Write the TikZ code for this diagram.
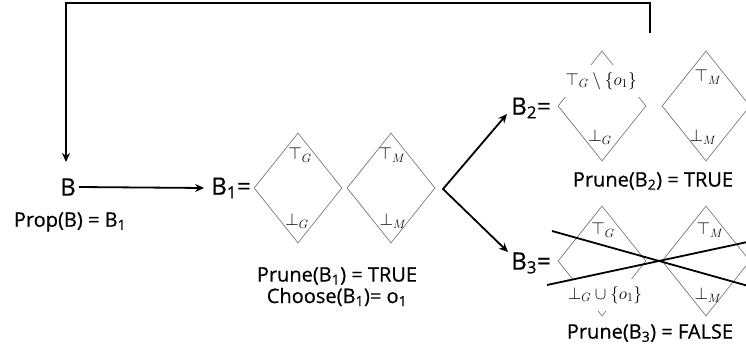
\documentclass[tikz,border=0pt]{standalone}
\usepackage{fontspec}
\setmainfont{Open Sans}[FakeBold=0.5]
\usetikzlibrary{shapes.geometric,arrows.meta}
\tikzset{mytip/.tip={Stealth[length=9pt,width=8pt]}}
\begin{document}
\begin{tikzpicture}[x=1pt,y=-1pt,
  dia/.style={draw=black!60,line width=0.6pt,diamond,minimum width=88pt,minimum height=110pt,inner sep=0pt},
  bl/.style={font=\fontsize{24}{28}\selectfont,inner sep=1pt},
  tx/.style={font=\fontsize{20}{24}\selectfont,inner sep=1pt},
  ml/.style={font=\fontsize{17}{20}\selectfont,inner sep=1pt},
  wl/.style={ml,fill=white,inner xsep=2pt,inner ysep=7pt},
  conn/.style={line width=1.8pt,-{mytip}},
  cross/.style={line width=1.8pt},
]
\useasboundingbox (0,0) rectangle (746,353);

% left: B
\node[bl] (B) at (68,187) {B};
\node[tx] (prop) at (70,222) {Prop(B) = B\textsubscript{1}};
\node[bl] (B1) at (231,188) {B\textsubscript{1}=};
\draw[conn] ([xshift=2pt]B.east) -- ([xshift=-6pt]B1.west);

% B1 diamonds
\node[dia] (d11) at (298,188) {};
\node[dia] (d12) at (391,188) {};
\node[ml] (t11) at (300,155) {$\top_G$};
\node[ml] (b11) at (297,221) {$\bot_G$};
\node[ml] (t12) at (392,155) {$\top_M$};
\node[ml] (b12) at (393,221) {$\bot_M$};
\node[tx] (prune1) at (337,276) {Prune(B\textsubscript{1}) = TRUE};
\node[tx] (choose1) at (337,297) {Choose(B\textsubscript{1})= o\textsubscript{1}};

% fork arrows
\coordinate (fork) at (443,189);
\coordinate (t2) at (507,114);
\coordinate (t3) at (508,252);
\draw[line width=1.8pt,line join=miter,{mytip}-{mytip}] (t2) -- (fork) -- (t3);

% B2
\node[bl] (B2) at (531,108) {B\textsubscript{2}=};
\node[dia] (d21) at (602,106) {};
\node[dia] (d22) at (706,106) {};
\node[wl] (t21) at (601,81) {$\top_G\setminus\{o_1\}$};
\node[ml] (b21) at (600,137) {$\bot_G$};
\node[ml] (t22) at (708,77) {$\top_M$};
\node[ml] (b22) at (703,137) {$\bot_M$};
\node[tx] (prune2) at (653,181) {Prune(B\textsubscript{2}) = TRUE};

% B3
\node[bl] (B3) at (531,263) {B\textsubscript{3}=};
\node[dia] (d31) at (602,261) {};
\node[dia] (d32) at (706,261) {};
\node[ml] (t31) at (603,230) {$\top_G$};
\node[wl] (b31) at (605,295) {$\bot_G\cup\{o_1\}$};
\node[ml] (t32) at (710,230) {$\top_M$};
\node[ml] (b32) at (708,295) {$\bot_M$};
\node[tx] (prune3) at (650,333) {Prune(B\textsubscript{3}) = FALSE};
\coordinate (c1a) at (552,231);
\coordinate (c1b) at (752,287);
\coordinate (c2a) at (547,285);
\coordinate (c2b) at (752,241);
\draw[cross] (c1a) -- (c1b);
\draw[cross] (c2a) -- (c2b);

% feedback loop
\coordinate (loopR) at (650,33);
\coordinate (loopL) at (66,3);
\coordinate (Btop) at (66,162);
\draw[line width=2.2pt,line join=miter,-{mytip}] (loopR) |- (loopL) -- (Btop);
\end{tikzpicture}
\end{document}
